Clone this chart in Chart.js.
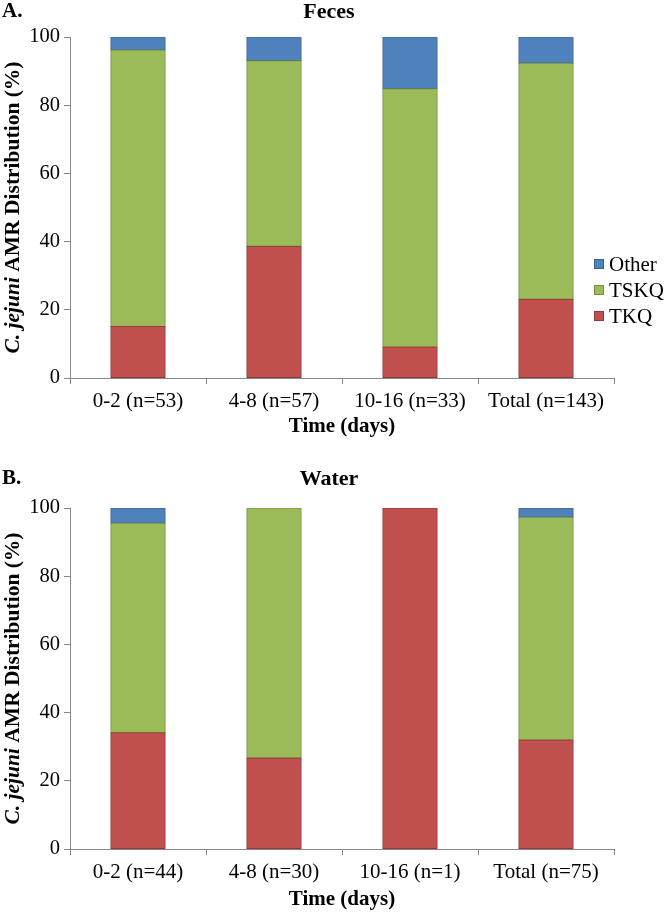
<!DOCTYPE html>
<html>
<head>
<meta charset="utf-8">
<script src="https://cdn.jsdelivr.net/npm/chart.js@4"></script>
<style>
  body { margin: 0; background: #fff; }
  #wrap { position: relative; width: 666px; height: 912px; }
  .panel { position: absolute; left: 0; }
</style>
</head>
<body>
<div id="wrap">
  <canvas id="chartA" class="panel" style="top:0" width="666" height="440"></canvas>
  <canvas id="chartB" class="panel" style="top:440px" width="666" height="472"></canvas>
</div>
<script>
const SERIF = '"Liberation Serif", "Times New Roman", serif';

// Feces
const CATEGORIES_A = ['0-2 (n=53)', '4-8 (n=57)', '10-16 (n=33)', 'Total (n=143)'];
const TKQ_A   = [15.1, 38.6, 9.1, 23.1];
const TSKQ_A  = [81.1, 54.4, 75.7, 69.2];
const OTHER_A = [3.8, 7.0, 15.2, 7.7];

// Water
const CATEGORIES_B = ['0-2 (n=44)', '4-8 (n=30)', '10-16 (n=1)', 'Total (n=75)'];
const TKQ_B   = [34.1, 26.7, 100, 32.0];
const TSKQ_B  = [61.4, 73.3, null, 65.3];
const OTHER_B = [4.5, null, null, 2.7];

const Y_TICKS = [0, 20, 40, 60, 80, 100];

const RED = '#C0504D', GREEN = '#9BBB59', BLUE = '#4F81BD';
const AXIS = '#878787';

Chart.defaults.font.family = SERIF;
Chart.defaults.color = '#000';

// titel, x/y-as titel (C. jejuni cursief) en legenda
const decor = {
    id: 'decor',
    afterDraw(chart, args, opts) {
        const ctx = chart.ctx;
        const a = chart.chartArea;
        ctx.save();
        ctx.fillStyle = '#000';
        ctx.textBaseline = 'middle';

        ctx.font = 'bold 21px ' + SERIF;
        ctx.textAlign = 'left';
        ctx.fillText(opts.letter, 2, opts.titleY);
        ctx.font = 'bold 22px ' + SERIF;
        ctx.textAlign = 'center';
        ctx.fillText(opts.title, 329, opts.titleY);

        ctx.font = 'bold 21px ' + SERIF;
        ctx.fillText('Time (days)', (a.left + a.right) / 2, a.bottom + opts.xTitleOffset);

        if (opts.legend) {
            ctx.font = '21px ' + SERIF;
            ctx.textAlign = 'left';
            const items = [...chart.data.datasets].reverse();
            items.forEach((d, i) => {
                const y = opts.legendY + i * 26;
                ctx.fillStyle = d.backgroundColor;
                ctx.fillRect(594, y - 5, 10, 10);
                ctx.strokeStyle = d.borderColor;
                ctx.lineWidth = 1;
                ctx.strokeRect(594.5, y - 4.5, 9, 9);
                ctx.fillStyle = '#000';
                ctx.fillText(d.label, 609, y + 1);
            });
        }

        ctx.translate(13, (a.top + a.bottom) / 2);
        ctx.rotate(-Math.PI / 2);
        const it = 'italic bold 21.5px ' + SERIF;
        const bd = 'bold 21.5px ' + SERIF;
        ctx.font = it;
        const w1 = ctx.measureText('C. jejuni').width;
        ctx.font = bd;
        const w2 = ctx.measureText(' AMR Distribution (%)').width;
        const x0 = -(w1 + w2) / 2;
        ctx.textAlign = 'left';
        ctx.fillStyle = '#000';
        ctx.font = it;
        ctx.fillText('C. jejuni', x0, 0);
        ctx.font = bd;
        ctx.fillText(' AMR Distribution (%)', x0 + w1, 0);
        ctx.restore();
    }
};

function makeChart(id, labels, tkq, tskq, other, cfg) {
    const ds = (label, data, bg, border) => ({
        label, data,
        backgroundColor: bg,
        borderColor: border,
        borderWidth: 1,
        borderSkipped: false,
        inflateAmount: 0.5,
        categoryPercentage: 1,
        barPercentage: 0.4
    });
    return new Chart(document.getElementById(id), {
        type: 'bar',
        data: {
            labels,
            datasets: [
                ds('TKQ', tkq, RED, '#8E3B39'),
                ds('TSKQ', tskq, GREEN, '#758E43'),
                ds('Other', other, BLUE, '#3A6290')
            ]
        },
        plugins: [decor],
        options: {
            responsive: false,
            animation: false,
            devicePixelRatio: 1,
            layout: { padding: { top: cfg.top, right: 52, left: 0, bottom: 0 } },
            plugins: {
                legend: { display: false },
                tooltip: { enabled: false },
                decor: cfg.decor
            },
            scales: {
                x: {
                    stacked: true,
                    offset: true,
                    afterFit: s => { s.height = cfg.xHeight; },
                    border: { color: AXIS, width: 1 },
                    grid: { offset: true, drawOnChartArea: false, drawTicks: true, tickLength: 6, color: AXIS },
                    ticks: { font: { size: 21 }, padding: 5, maxRotation: 0 }
                },
                y: {
                    stacked: true,
                    min: 0, max: 100,
                    afterBuildTicks: s => { s.ticks = Y_TICKS.map(v => ({ value: v })); },
                    afterFit: s => { s.width = 70; },
                    border: { color: AXIS, width: 1 },
                    grid: { drawOnChartArea: false, drawTicks: true, tickLength: 6, color: AXIS },
                    ticks: { font: { size: 20.5 }, padding: 4 }
                }
            }
        }
    });
}

makeChart('chartA', CATEGORIES_A, TKQ_A, TSKQ_A, OTHER_A, {
    top: 37, xHeight: 62,
    decor: { letter: 'A.', title: 'Feces', titleY: 12, xTitleOffset: 49, legend: true, legendY: 264 }
});
makeChart('chartB', CATEGORIES_B, TKQ_B, TSKQ_B, OTHER_B, {
    top: 68, xHeight: 63,
    decor: { letter: 'B.', title: 'Water', titleY: 39, xTitleOffset: 51, legend: false }
});
</script>
</body>
</html>
